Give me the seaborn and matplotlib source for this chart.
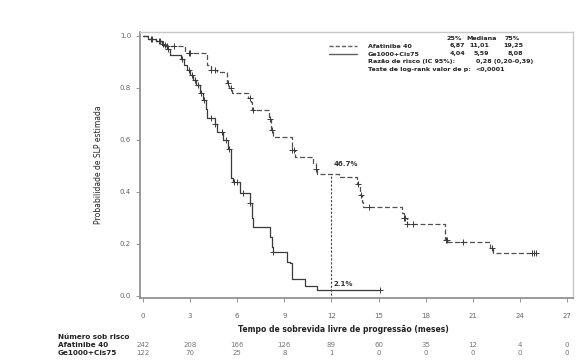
import matplotlib
matplotlib.use("Agg")
import matplotlib.pyplot as plt
import matplotlib.transforms as mtransforms
import numpy as np
import pandas as pd
import seaborn as sns

# Kaplan-Meier steps (months, survival)
afat_t = [0, 0.3, 0.8, 1.2, 1.4, 2.7, 4.1, 4.3, 4.7, 5.35, 5.5, 5.65, 6.7, 6.85, 6.95,
          8.0, 8.15, 8.3, 9.5, 9.7, 10.8, 11.0, 11.1, 12.5, 13.6, 13.8, 13.95, 14.0,
          16.5, 16.6, 16.8, 19.2, 19.4, 22.1, 22.3, 25.1]
afat_s = [1.0, 0.99, 0.98, 0.97, 0.96, 0.935, 0.89, 0.87, 0.86, 0.82, 0.80, 0.78, 0.76, 0.745, 0.715,
          0.68, 0.64, 0.61, 0.56, 0.535, 0.51, 0.49, 0.467, 0.457, 0.43, 0.39, 0.36, 0.342,
          0.32, 0.30, 0.277, 0.215, 0.208, 0.185, 0.165, 0.165]
afat_cens = [0.5, 1.0, 1.3, 1.5, 2.0, 2.9, 3.0, 4.3, 4.6, 5.4, 5.6, 6.8, 7.0, 8.1, 8.2, 9.5, 9.6,
             11.0, 13.7, 13.9, 14.4, 16.6, 16.7, 16.8, 17.2, 19.3, 19.35, 20.4, 22.2, 24.8, 24.9, 25.0]

gem_t = [0, 0.3, 0.8, 1.2, 1.5, 1.7, 2.4, 2.6, 2.8, 3.0, 3.2, 3.4, 3.6, 3.8, 4.0, 4.1, 4.6, 4.7,
         5.1, 5.4, 5.59, 5.75, 6.2, 6.8, 6.95, 7.0, 8.08, 8.2, 8.3, 9.15, 9.35, 9.47, 10.3, 11.1, 15.1]
gem_s = [1.0, 0.99, 0.98, 0.965, 0.95, 0.925, 0.91, 0.89, 0.87, 0.85, 0.83, 0.81, 0.78, 0.755, 0.72,
         0.685, 0.66, 0.63, 0.60, 0.565, 0.455, 0.44, 0.397, 0.357, 0.30, 0.264, 0.228, 0.19, 0.17,
         0.132, 0.127, 0.065, 0.038, 0.021, 0.021]
gem_cens = [0.6, 1.1, 1.4, 1.6, 2.5, 2.9, 3.1, 3.3, 3.5, 3.7, 3.9, 4.3, 4.6, 5.0, 5.3, 5.5,
            5.8, 6.0, 6.4, 6.8, 8.3, 15.1]

x_ticks = [0, 3, 6, 9, 12, 15, 18, 21, 24, 27]
risk_afat = [242, 208, 166, 126, 89, 60, 35, 12, 4, 0]
risk_gem = [122, 70, 25, 8, 1, 0, 0, 0, 0, 0]

quart_head = ["25%", "Mediana", "75%"]
afat_quart = ["6,87", "11,01", "19,25"]
gem_quart = ["4,04", "5,59", "8,08"]

sns.set_style("white")
plt.rcParams['font.family'] = ['DejaVu Sans']

W, H = 579, 363
fig, ax = plt.subplots(figsize=(W / 100, H / 100), dpi=100)
fig.subplots_adjust(left=140 / W, right=573 / W, top=1 - 32 / H, bottom=1 - 298 / H)


def km_at(ts, ss, times):
    idx = np.searchsorted(ts, times, side="right") - 1
    return np.asarray(ss)[idx]


dark = "#3a3a3a"
sns.lineplot(x=afat_t, y=afat_s, ax=ax, drawstyle="steps-post", color="#505050",
             linewidth=0.9, dashes=False, linestyle=(0, (4, 2)), estimator=None, sort=False)
sns.lineplot(x=gem_t, y=gem_s, ax=ax, drawstyle="steps-post", color=dark,
             linewidth=0.9, estimator=None, sort=False)

ax.plot(afat_cens, km_at(afat_t, afat_s, afat_cens), linestyle="none", marker="+",
        markersize=4, markeredgewidth=0.7, color=dark)
ax.plot(gem_cens, km_at(gem_t, gem_s, gem_cens), linestyle="none", marker="+",
        markersize=4, markeredgewidth=0.7, color=dark)

# reference line at 12 months
s12_afat = km_at(afat_t, afat_s, [12])[0]
s12_gem = km_at(gem_t, gem_s, [12])[0]
ax.vlines(12, -0.01, s12_afat, colors="#444444", linestyles=(0, (2, 1.5)), linewidth=0.8)
ax.text(12.15, s12_afat + 0.03, f"{s12_afat * 100:.1f}%", fontsize=5,
        color="#333333", fontweight="bold", va="bottom")
ax.text(12.15, s12_gem + 0.015, f"{s12_gem * 100:.1f}%", fontsize=5,
        color="#333333", fontweight="bold", va="bottom")

ax.set_xlim(-0.19, 27.38)
ax.set_ylim(-0.008, 1.015)
ax.set_xticks(x_ticks)
ax.set_yticks([0, 0.2, 0.4, 0.6, 0.8, 1.0])
ax.set_yticklabels(["0.0", "0.2", "0.4", "0.6", "0.8", "1.0"])
ax.tick_params(axis="both", labelsize=5, colors="#888888", labelcolor="#666666",
               length=3, width=0.6, direction="out", left=True, bottom=True)
ax.tick_params(axis="x", pad=8)
for side in ["top", "right"]:
    ax.spines[side].set_color("#c8c8c8")
    ax.spines[side].set_linewidth(1.0)
for side in ["left", "bottom"]:
    ax.spines[side].set_color("#8a8a8a")
    ax.spines[side].set_linewidth(1.2)

ax.set_ylabel("Probabilidade de SLP estimada", fontsize=5.5, color="#222222", labelpad=12)
fig.text(343 / W, 1 - 329 / H, "Tempo de sobrevida livre de progressão (meses)",
         fontsize=5.5, fontweight="bold", ha="center", va="center", color="#222222")


def fx(px):
    return px / W


def fy(py):
    return 1 - py / H


# legend block
txt = dict(fontsize=4.6, fontweight="bold", va="center", color="#222222")
for lab, xr in zip(quart_head, [462, 497, 520]):
    fig.text(fx(xr), fy(39), lab, ha="right", **txt)
for vals, yy in [(afat_quart, 46), (gem_quart, 54)]:
    for v, xr in zip(vals, [465, 489, 523]):
        fig.text(fx(xr), fy(yy), v, ha="right", **txt)
fig.text(fx(368), fy(46), "Afatinibe 40", ha="left", **txt)
fig.text(fx(368), fy(54), "Ge1000+Cis75", ha="left", **txt)
fig.text(fx(368), fy(62), "Razão de risco (IC 95%):", ha="left", **txt)
fig.text(fx(476), fy(62), "0,28 (0,20-0,39)", ha="left", **txt)
fig.text(fx(368), fy(69), "Teste de log-rank valor de p:", ha="left", **txt)
fig.text(fx(475), fy(69), "<0,0001", ha="left", **txt)
fig.lines.append(plt.Line2D([fx(329), fx(357)], [fy(46), fy(46)], transform=fig.transFigure,
                            color="#606060", linewidth=1.0, linestyle=(0, (3, 1.5))))
fig.lines.append(plt.Line2D([fx(329), fx(357)], [fy(54), fy(54)], transform=fig.transFigure,
                            color="#606060", linewidth=1.0))

# number at risk table
trans = mtransforms.blended_transform_factory(ax.transData, fig.transFigure)
fig.text(fx(58), fy(337), "Número sob risco", ha="left", **txt | dict(fontsize=5.2))
fig.text(fx(58), fy(345), "Afatinibe 40", ha="left", **txt | dict(fontsize=5.2))
fig.text(fx(58), fy(353), "Ge1000+Cis75", ha="left", **txt | dict(fontsize=5.2))
for xt, a, g in zip(x_ticks, risk_afat, risk_gem):
    ax.text(xt, fy(345), str(a), transform=trans, ha="center", va="center", fontsize=5, color="#777777")
    ax.text(xt, fy(353), str(g), transform=trans, ha="center", va="center", fontsize=5, color="#777777")

fig.savefig("out.png", dpi=100)
